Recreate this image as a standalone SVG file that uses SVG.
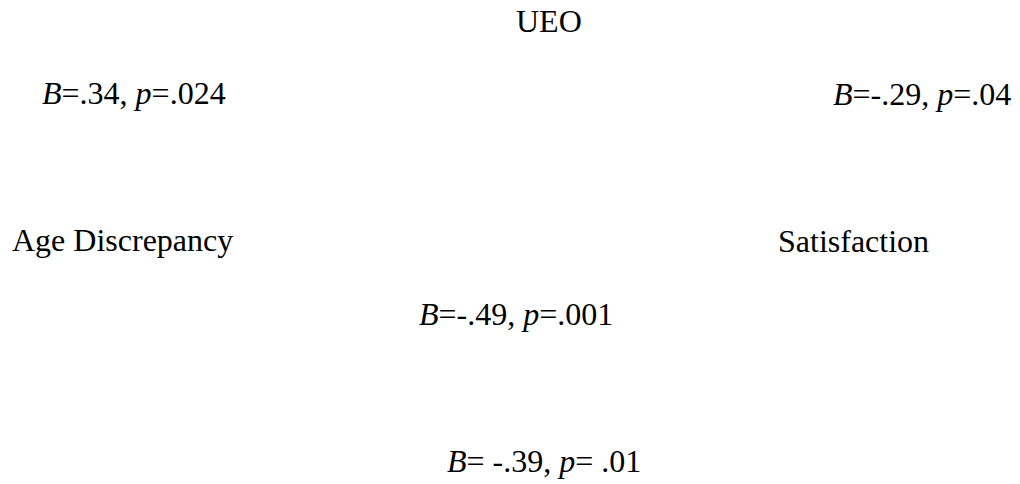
<svg xmlns="http://www.w3.org/2000/svg" width="1020" height="484" viewBox="0 0 1020 484">
<style>
text{font-family:"Liberation Serif","Times New Roman",serif;font-size:32px;fill:#000}
.i{font-style:italic}
</style>
<rect width="1020" height="484" fill="#fff"/>
<g id="connectors"></g>
<g id="node-ueo"><text x="516" y="32">UEO</text></g>
<g id="node-age"><text x="12" y="251">Age Discrepancy</text></g>
<g id="node-sat"><text x="778" y="252">Satisfaction</text></g>
<g id="label-a"><text x="42" y="104"><tspan class="i">B</tspan>=.34, <tspan class="i">p</tspan>=.024</text></g>
<g id="label-b"><text x="833" y="105"><tspan class="i">B</tspan>=-.29, <tspan class="i">p</tspan>=.04</text></g>
<g id="label-c"><text x="419" y="325"><tspan class="i">B</tspan>=-.49, <tspan class="i">p</tspan>=.001</text></g>
<g id="label-d"><text x="447" y="472"><tspan class="i">B</tspan>= -.39, <tspan class="i">p</tspan>= .01</text></g>
</svg>
